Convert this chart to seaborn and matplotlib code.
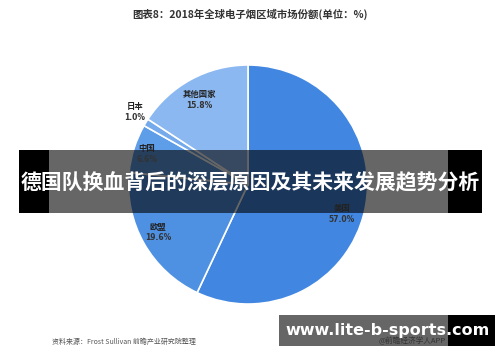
import matplotlib
matplotlib.use("Agg")
import matplotlib.pyplot as plt
import seaborn as sns
from matplotlib.patches import Rectangle

sns.set_theme(style="white")
plt.rcParams['font.family'] = ['Noto Sans CJK SC', 'DejaVu Sans']

categories = ["美国", "欧盟", "中国", "日本", "其他国家"]
shares = [57.0, 19.6, 6.6, 1.0, 15.8]
value_labels = ["57.0%", "19.6%", "6.6%", "1.0%", "15.8%"]
colors = sns.color_palette(["#4187E1", "#4E91E3", "#5E9DE8", "#75AAEC", "#8BB8F0"])

title = "图表8：2018年全球电子烟区域市场份额(单位：%)"
banner = "德国队换血背后的深层原因及其未来发展趋势分析"
source = "资料来源：Frost Sullivan 前瞻产业研究院整理"
site = "www.lite-b-sports.com"

W, H = 500, 362
fig = plt.figure(figsize=(W / 100, H / 100), dpi=100)
fig.patch.set_facecolor("white")

# pie axes: center (248, 184.5), radius ~120 px
cx, cy, r = 248, 184.5, 120
ax = fig.add_axes([(cx - r) / W, 1 - (cy + r) / H, 2 * r / W, 2 * r / H])
ax.pie(shares, colors=colors, startangle=90, counterclock=False, radius=0.996,
       wedgeprops=dict(edgecolor="white", linewidth=1.2))
ax.set_xlim(-1, 1)
ax.set_ylim(-1, 1)
ax.set_aspect("equal")
ax.axis("off")

# overlay axes in pixel coordinates (y from top)
ov = fig.add_axes([0, 0, 1, 1], zorder=10)
ov.set_xlim(0, W)
ov.set_ylim(H, 0)
ov.axis("off")
ov.patch.set_alpha(0)

label_pos = {"美国": (342, 209), "欧盟": (158, 227), "中国": (147, 148),
             "日本": (135, 106), "其他国家": (199, 94)}
for cat, val in zip(categories, value_labels):
    x, y = label_pos[cat]
    ov.text(x, y, cat, ha="center", va="center", fontsize=6,
            fontweight="bold", color="#222222")
    ov.text(x, y + 11, val, ha="center", va="center", fontsize=5.5,
            fontweight="bold", color="#333333", family=['DejaVu Sans'])

ov.text(250, 14, title, ha="center", va="center", fontsize=7.5,
        fontweight="bold", color="#333333")
ov.text(52, 342, source, ha="left", va="center", fontsize=5, color="#555555")
ov.text(412, 341, "@前瞻经济学人APP", ha="center", va="center",
        fontsize=5.5, color="#333333")

def rect(x0, y0, x1, y1, alpha=1.0):
    ov.add_patch(Rectangle((x0, y0), x1 - x0, y1 - y0, facecolor="black",
                           edgecolor="none", alpha=alpha))

# banner
rect(19, 150, 49, 213)
rect(49, 150, 448, 213, alpha=0.6)
rect(448, 150, 482, 213)
ov.text(250, 183, banner, ha="center", va="center", fontsize=15,
        fontweight="bold", color="white")

# site box
rect(279, 315, 448, 346, alpha=0.6)
rect(448, 315, 495, 346)
ov.text(388, 330, site, ha="center", va="center", fontsize=11.5,
        fontweight="bold", color="white", family=['DejaVu Sans'])

fig.savefig("out.png", dpi=100)
